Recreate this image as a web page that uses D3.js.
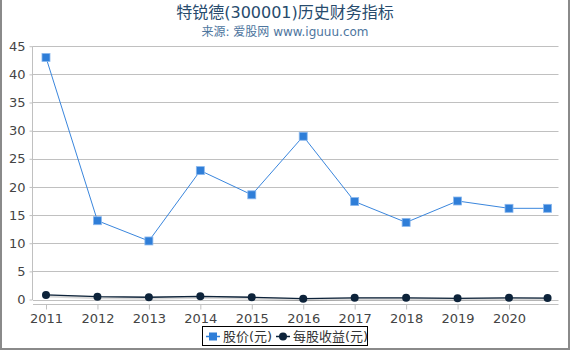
<!DOCTYPE html>
<html><head><meta charset="utf-8">
<script src="https://cdn.jsdelivr.net/npm/d3@7"></script>
<style>
html,body{margin:0;padding:0;background:#fff;}
svg{display:block;font-family:"DejaVu Sans","Noto Sans CJK SC",sans-serif;}
</style></head>
<body><svg id="c" width="570" height="350"></svg>
<script>
const years = [2011, 2012, 2013, 2014, 2015, 2016, 2017, 2018, 2019, 2020, 2020.75];
const xTickLabels = [2011, 2012, 2013, 2014, 2015, 2016, 2017, 2018, 2019, 2020];
const yTicks = [0, 5, 10, 15, 20, 25, 30, 35, 40, 45];
const price = [43.0, 14.0, 10.4, 22.9, 18.6, 29.0, 17.4, 13.7, 17.5, 16.2, 16.2];
const eps = [0.82, 0.5, 0.4, 0.57, 0.4, 0.15, 0.3, 0.3, 0.22, 0.3, 0.25];
const seriesNames = ["股价(元)", "每股收益(元)"];
const title = "特锐德(300001)历史财务指标";
const subtitle = "来源: 爱股网 www.iguuu.com";

const svg = d3.select("#c");
const L = 32, R = 558.5, T = 46.2, B = 304.3;

const x = d3.scaleLinear().domain([2010.728, 2020.962]).range([L, R]);
const y = d3.scaleLinear().domain([-0.85, 45]).range([B, T]);

// border
svg.append("path").attr("d", `M1,0 V349 H569 V0`).attr("fill", "none")
  .attr("stroke", "#8a8a8a").attr("stroke-width", 2);

// title
svg.append("text").attr("x", 285).attr("y", 17.5).attr("text-anchor", "middle")
  .attr("font-size", 16).attr("fill", "#274b6d").text(title);
svg.append("text").attr("x", 285).attr("y", 35.5).attr("text-anchor", "middle")
  .attr("font-size", 12).attr("fill", "#4d759e").text(subtitle);

// gridlines
svg.append("g").selectAll("line").data(yTicks).join("line")
  .attr("x1", L + 1).attr("x2", R)
  .attr("y1", d => Math.round(y(d)) + 0.5).attr("y2", d => Math.round(y(d)) + 0.5)
  .attr("stroke", "#c0c0c0").attr("stroke-width", 1);

// y axis
const yAxis = d3.axisLeft(y).tickValues(yTicks).tickSize(3).tickPadding(4).tickFormat(d3.format("d"));
const gy = svg.append("g").attr("transform", `translate(${L + 0.5},0)`).call(yAxis);
gy.select(".domain").attr("d", `M0,${T} V${y(0) + 0.5}`).attr("stroke", "#c0c0c0");
gy.selectAll(".tick line").attr("stroke", "#c0c0c0");
gy.selectAll(".tick text").attr("font-size", 13).attr("fill", "#444")
  .attr("font-family", "DejaVu Sans").attr("x", -7);

// x axis
const xAxis = d3.axisBottom(x).tickValues(xTickLabels).tickSize(5).tickPadding(4).tickFormat(d3.format("d"));
const gx = svg.append("g").attr("transform", `translate(0,${Math.round(B) + 0.5})`).call(xAxis);
gx.select(".domain").attr("d", `M${L + 1},0 H${R}`).attr("stroke", "#c0c0c0");
gx.selectAll(".tick line").attr("stroke", "#c0c0c0");
gx.selectAll(".tick text").attr("font-size", 13).attr("fill", "#444").attr("font-family", "DejaVu Sans");

const line = d3.line().x((d, i) => x(years[i])).y(d => y(d));

// EPS series with shadow
svg.append("path").datum(eps).attr("d", line).attr("fill", "none")
  .attr("stroke", "#000").attr("stroke-opacity", 0.15).attr("stroke-width", 3)
  .attr("transform", "translate(1,1)");
svg.append("path").datum(eps).attr("d", line).attr("fill", "none")
  .attr("stroke", "#0d233a").attr("stroke-width", 1.3);
svg.append("g").selectAll("circle").data(eps).join("circle")
  .attr("cx", (d, i) => x(years[i])).attr("cy", d => y(d)).attr("r", 4)
  .attr("fill", "#0d233a");

// price series
svg.append("path").datum(price).attr("d", line).attr("fill", "none")
  .attr("stroke", "#3a86dd").attr("stroke-width", 1);
svg.append("g").selectAll("rect").data(price).join("rect")
  .attr("x", (d, i) => x(years[i]) - 4).attr("y", d => y(d) - 4)
  .attr("width", 8).attr("height", 8).attr("fill", "#2f7ed8")
  .attr("stroke", "#8bb8ee").attr("stroke-width", 0.8);

// legend
const lg = svg.append("g");
lg.append("rect").attr("x", 202.5).attr("y", 326.5).attr("width", 165).attr("height", 19)
  .attr("fill", "#fff").attr("stroke", "#000").attr("stroke-width", 1);
const ly = 336.5;
lg.append("line").attr("x1", 206).attr("x2", 220).attr("y1", ly).attr("y2", ly)
  .attr("stroke", "#2f7ed8").attr("stroke-width", 1.5);
lg.append("rect").attr("x", 209).attr("y", ly - 4).attr("width", 8).attr("height", 8).attr("fill", "#2f7ed8");
lg.append("text").attr("x", 223).attr("y", ly + 4.5).attr("font-size", 13).attr("fill", "#333").text(seriesNames[0]);
lg.append("line").attr("x1", 276).attr("x2", 290).attr("y1", ly).attr("y2", ly)
  .attr("stroke", "#0d233a").attr("stroke-width", 1.5);
lg.append("circle").attr("cx", 283).attr("cy", ly).attr("r", 4).attr("fill", "#0d233a");
lg.append("text").attr("x", 293).attr("y", ly + 4.5).attr("font-size", 13).attr("fill", "#333").text(seriesNames[1]);
</script></body></html>
